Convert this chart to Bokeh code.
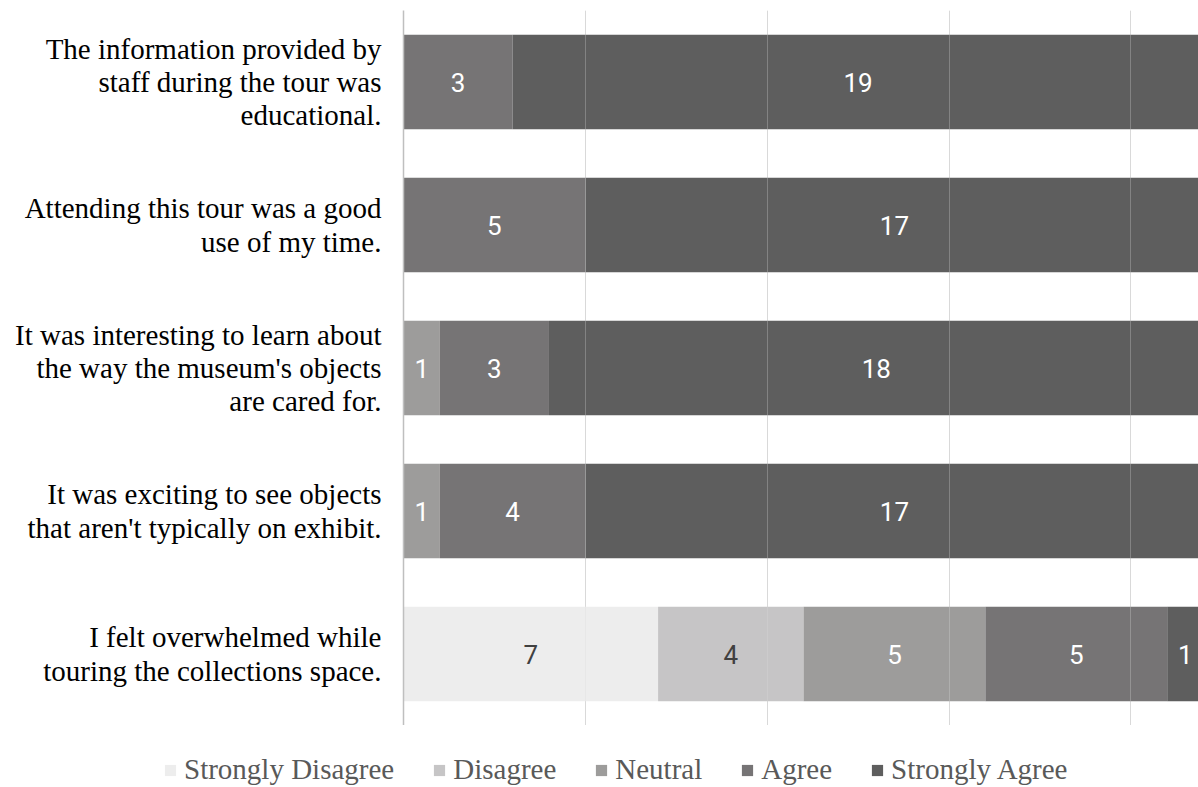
from bokeh.plotting import figure
from bokeh.models import ColumnDataSource, FixedTicker, Legend, LegendItem, Grid, Range1d, FactorRange
from bokeh.core.properties import value
from bokeh.embed import file_html
from bokeh.resources import INLINE

# ---- data ----
statements = [
    "The information provided by\nstaff during the tour was\neducational.",
    "Attending this tour was a good\nuse of my time.",
    "It was interesting to learn about\nthe way the museum's objects\nare cared for.",
    "It was exciting to see objects\nthat aren't typically on exhibit.",
    "I felt overwhelmed while\ntouring the collections space.",
]
levels = ["Strongly Disagree", "Disagree", "Neutral", "Agree", "Strongly Agree"]
strongly_disagree = [0, 0, 0, 0, 7]
disagree = [0, 0, 0, 0, 4]
neutral = [0, 0, 1, 1, 5]
agree = [3, 5, 3, 4, 5]
strongly_agree = [19, 17, 18, 17, 1]
x_ticks = [0, 5, 10, 15, 20]

colors = ["#ededed", "#c6c5c6", "#9d9c9b", "#767475", "#5e5e5e"]
label_colors = ["#404040", "#404040", "#ffffff", "#ffffff", "#ffffff"]
series = [strongly_disagree, disagree, neutral, agree, strongly_agree]

factors = list(reversed(statements))

p = figure(width=1198, height=725, y_range=FactorRange(factors=factors),
           x_range=Range1d(0, 21.86), output_backend="svg", toolbar_location=None,
           min_border_left=403, min_border_right=0, min_border_top=10, min_border_bottom=0)
p.outline_line_color = None
p.background_fill_color = "white"

left = [0] * len(statements)
for i, (name, vals) in enumerate(zip(levels, series)):
    right = [l + v for l, v in zip(left, vals)]
    src = ColumnDataSource(dict(y=statements, left=left, right=right))
    p.hbar(y="y", left="left", right="right", height=0.66, source=src,
           fill_color=colors[i], line_color=None)
    # data labels
    lx, ly, lt = [], [], []
    for s, l, v in zip(statements, left, vals):
        if v > 0:
            lx.append(l + v / 2)
            ly.append(s)
            lt.append(str(v))
    lsrc = ColumnDataSource(dict(x=lx, y=ly, t=lt))
    p.text(x="x", y="y", text="t", source=lsrc, text_align="center", text_baseline="middle",
           text_font=value("Roboto"), text_font_size="26px",
           text_color=label_colors[i])
    left = right

p.xaxis.visible = False
p.xgrid.ticker = FixedTicker(ticks=x_ticks)
p.xgrid.grid_line_color = "#d9d9d9"
p.ygrid.grid_line_color = None
over = Grid(dimension=0, ticker=FixedTicker(ticks=x_ticks), grid_line_color="#d9d9d9",
            grid_line_alpha=0.3, level="overlay")
p.add_layout(over)

ya = p.yaxis[0]
ya.axis_line_color = "#bfbfbf"
ya.axis_line_width = 1.5
ya.major_tick_line_color = None
ya.minor_tick_line_color = None
ya.major_tick_out = 0
ya.major_label_standoff = 22
ya.major_label_text_font = "Liberation Serif"
ya.major_label_text_font_size = "29px"
ya.major_label_text_color = "#000000"
ya.major_label_text_line_height = 1.04

# legend strip below the chart (separate root, so no frame alignment)
pl = figure(width=1198, height=62, x_range=Range1d(0, 1), y_range=Range1d(0, 1),
            output_backend="svg", toolbar_location=None,
            min_border_left=0, min_border_right=0, min_border_top=0, min_border_bottom=0)
pl.outline_line_color = None
pl.axis.visible = False
pl.grid.visible = False
items = []
for n, c in zip(levels, colors):
    r = pl.hbar(y=[5], left=[5], right=[6], height=0.5, fill_color=c, line_color=None)
    items.append(LegendItem(label=n, renderers=[r]))
legend = Legend(items=items, orientation="horizontal", location=(163, 1),
                glyph_width=14, glyph_height=14, label_standoff=7, spacing=38,
                padding=0, margin=0, border_line_color=None, background_fill_alpha=0,
                label_text_font="Liberation Serif", label_text_font_size="29px",
                label_text_color="#595959")
pl.add_layout(legend, "center")

open("out.html", "w").write(file_html((p, pl), INLINE))
